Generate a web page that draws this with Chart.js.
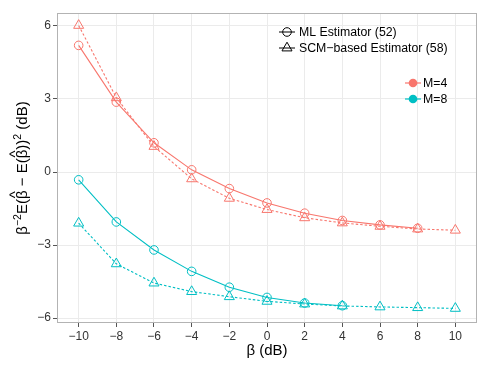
<!DOCTYPE html>
<html>
<head>
<meta charset="utf-8">
<script src="https://cdn.jsdelivr.net/npm/chart.js@4"></script>
<style>
  html, body { margin: 0; padding: 0; background: #fff; }
  #wrap { width: 491px; height: 367px; position: relative; }
</style>
</head>
<body>
<div id="wrap"><canvas id="chart" width="491" height="367"></canvas></div>
<script>
// beta in dB
const betaDb = [-10, -8, -6, -4, -2, 0, 2, 4, 6, 8, 10];
const xTicks = [-10, -8, -6, -4, -2, 0, 2, 4, 6, 8, 10];
const yTicks = [-6, -3, 0, 3, 6];

// normalised MSE (dB)
const mlM4  = [5.2, 2.87, 1.2, 0.09, -0.68, -1.27, -1.69, -1.99, -2.17, -2.31, null];
const scmM4 = [6.02, 3.05, 1.05, -0.28, -1.08, -1.54, -1.88, -2.09, -2.23, -2.34, -2.39];
const mlM8  = [-0.32, -2.05, -3.2, -4.08, -4.73, -5.15, -5.38, -5.49, null, null, null];
const scmM8 = [-2.1, -3.77, -4.56, -4.91, -5.12, -5.31, -5.42, -5.5, -5.54, -5.57, -5.6];

const red = '#F8766D';
const cyan = '#00BFC4';
const fontFam = '"Liberation Sans", Arial, sans-serif';

function toXY(vals) {
    return betaDb.map((b, i) => ({ x: b, y: vals[i] })).filter(p => p.y !== null);
}

function series(label, vals, color, shape, dashed) {
    return {
        label: label,
        data: toXY(vals),
        borderColor: color,
        backgroundColor: 'rgba(0,0,0,0)',
        borderWidth: 1.1,
        borderDash: dashed ? [2.5, 2] : [],
        pointStyle: shape,
        pointRadius: shape === 'triangle' ? 5.8 : 4.3,
        pointBorderColor: color,
        pointBorderWidth: 1,
        pointBackgroundColor: 'rgba(0,0,0,0)',
        fill: false,
        tension: 0
    };
}

// y title with hats and superscripts: beta^-2 E(beta^ - E(beta^))^2 (dB)
function drawYTitle(c) {
    const big = '15px ' + fontFam;
    const small = '10.5px ' + fontFam;
    const parts = [
        { t: '\u03b2', f: big, dy: 0 },
        { t: '\u22122', f: small, dy: -6 },
        { t: 'E(', f: big, dy: 0 },
        { t: '\u03b2', f: big, dy: 0, hat: true },
        { t: ' \u2212 E(', f: big, dy: 0 },
        { t: '\u03b2', f: big, dy: 0, hat: true },
        { t: '))', f: big, dy: 0 },
        { t: '2', f: small, dy: -6 },
        { t: ' (dB)', f: big, dy: 0 }
    ];
    let total = 0;
    parts.forEach(p => { c.font = p.f; p.w = c.measureText(p.t).width; total += p.w; });
    c.save();
    c.translate(27, 168);
    c.rotate(-Math.PI / 2);
    c.fillStyle = '#000';
    c.textBaseline = 'alphabetic';
    let x = -total / 2;
    parts.forEach(p => {
        c.font = p.f;
        c.fillText(p.t, x, p.dy);
        if (p.hat) {
            c.font = big;
            const hw = c.measureText('^').width;
            c.fillText('^', x + (p.w - hw) / 2, -7.5);
        }
        x += p.w;
    });
    c.restore();
}

// panel border, legends and y title drawn by hand (ggplot style)
const panelExtras = {
    id: 'panelExtras',
    afterDraw(chart) {
        const c = chart.ctx;
        const a = chart.chartArea;
        c.save();
        c.strokeStyle = '#b3b3b3';
        c.lineWidth = 1;
        c.strokeRect(a.left + 0.5, a.top + 0.5, a.right - a.left - 1, a.bottom - a.top - 1);

        c.font = '12.3px ' + fontFam;
        c.textBaseline = 'middle';
        c.fillStyle = '#000';

        // shape legend
        const shapes = [
            { txt: 'ML Estimator (52)', y: 32, tri: false },
            { txt: 'SCM\u2212based Estimator (58)', y: 48, tri: true }
        ];
        shapes.forEach(s => {
            const cx = 287;
            c.strokeStyle = '#000';
            c.lineWidth = 1;
            c.beginPath();
            c.moveTo(cx - 8, s.y); c.lineTo(cx + 8, s.y);
            c.stroke();
            c.beginPath();
            if (s.tri) {
                const r = 5.8;
                c.moveTo(cx, s.y - r);
                c.lineTo(cx + r * 0.866, s.y + r * 0.5);
                c.lineTo(cx - r * 0.866, s.y + r * 0.5);
                c.closePath();
            } else {
                c.arc(cx, s.y, 4.3, 0, Math.PI * 2);
            }
            c.stroke();
            c.fillText(s.txt, 299, s.y + 0.5);
        });

        // colour legend
        const cols = [
            { txt: 'M=4', y: 83, col: red },
            { txt: 'M=8', y: 99, col: cyan }
        ];
        cols.forEach(s => {
            const cx = 413;
            c.strokeStyle = s.col;
            c.lineWidth = 1.2;
            c.beginPath();
            c.moveTo(cx - 8, s.y); c.lineTo(cx + 8, s.y);
            c.stroke();
            c.fillStyle = s.col;
            c.beginPath();
            c.arc(cx, s.y, 4.3, 0, Math.PI * 2);
            c.fill();
            c.fillStyle = '#000';
            c.fillText(s.txt, 423, s.y + 0.5);
        });

        drawYTitle(c);
        c.restore();
    }
};

const ctx = document.getElementById('chart').getContext('2d');
const chart = new Chart(ctx, {
    type: 'line',
    data: {
        datasets: [
            series('ML M=4', mlM4, red, 'circle', false),
            series('SCM M=4', scmM4, red, 'triangle', true),
            series('ML M=8', mlM8, cyan, 'circle', false),
            series('SCM M=8', scmM8, cyan, 'triangle', true)
        ]
    },
    options: {
        responsive: false,
        animation: false,
        layout: { padding: { left: 0, top: 13, right: 14, bottom: 0 } },
        plugins: {
            legend: { display: false },
            tooltip: { enabled: false }
        },
        scales: {
            x: {
                type: 'linear',
                min: -11.15,
                max: 11.15,
                afterBuildTicks: s => { s.ticks = xTicks.map(v => ({ value: v })); },
                afterFit: s => { s.height = 44; },
                grid: { color: '#ebebeb', lineWidth: 1, tickColor: '#555', tickLength: 4, drawTicks: true },
                border: { display: false },
                ticks: {
                    color: '#333',
                    padding: 2,
                    font: { family: fontFam, size: 12 },
                    callback: v => String(v).replace('-', '\u2212')
                },
                title: {
                    display: true,
                    text: '\u03b2 (dB)',
                    color: '#000',
                    font: { family: fontFam, size: 15 },
                    padding: { top: 0, bottom: 7 }
                }
            },
            y: {
                type: 'linear',
                min: -6.2,
                max: 6.53,
                afterBuildTicks: s => { s.ticks = yTicks.map(v => ({ value: v })); },
                afterFit: s => { s.width = 57; },
                grid: { color: '#ebebeb', lineWidth: 1, tickColor: '#555', tickLength: 4, drawTicks: true },
                border: { display: false },
                ticks: {
                    color: '#333',
                    padding: 2,
                    font: { family: fontFam, size: 12 },
                    callback: v => String(v).replace('-', '\u2212')
                },
                title: { display: false }
            }
        }
    },
    plugins: [panelExtras]
});
</script>
</body>
</html>
